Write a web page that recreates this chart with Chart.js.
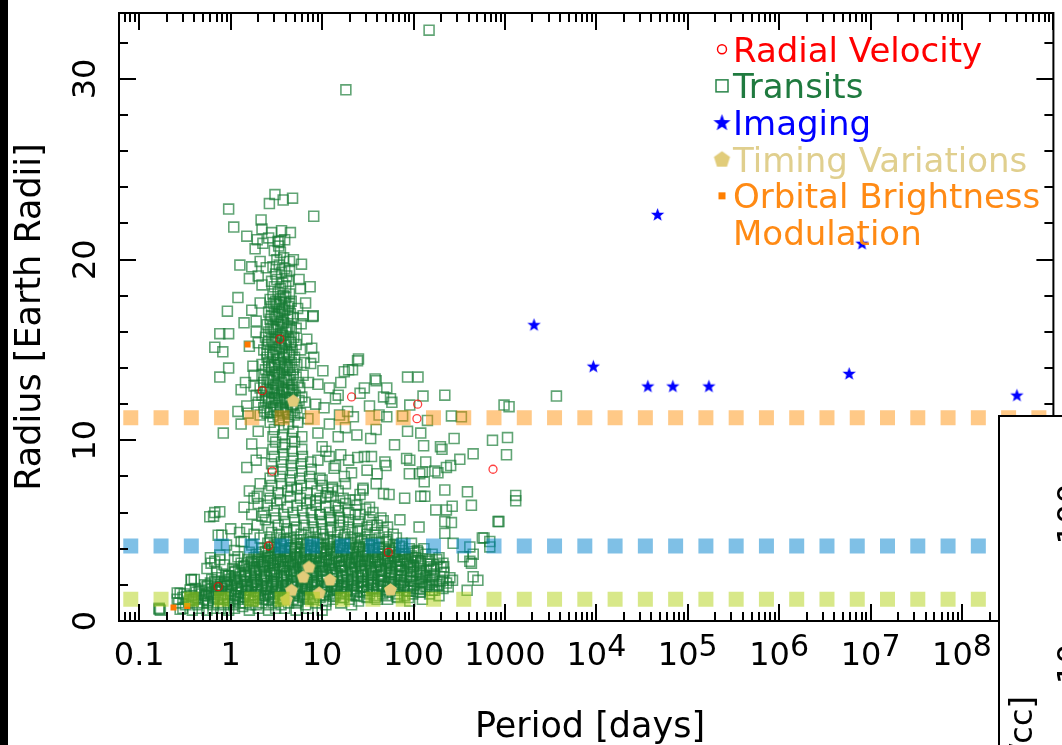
<!DOCTYPE html>
<html>
<head>
<meta charset="utf-8">
<script src="https://cdn.jsdelivr.net/npm/chart.js@4.4.1/dist/chart.umd.min.js"></script>
<style>
  html, body { margin: 0; padding: 0; background: #fff; overflow: hidden; }
  canvas { display: block; }
</style>
</head>
<body>
<canvas id="plot" width="1062" height="745"></canvas>
<script>
// axis ranges and tick labels
const xLimits = [0.06, 1e9];
const yLimits = [0, 33.65];
const xTickValues = [0.1, 1, 10, 100, 1000, 1e4, 1e5, 1e6, 1e7, 1e8];
const xTickLabels = ['0.1', '1', '10', '100', '1000', '10^4', '10^5', '10^6', '10^7', '10^8'];
const yTickValues = [0, 10, 20, 30];
const seriesNames = ['Radial Velocity', 'Transits', 'Imaging', 'Timing Variations', 'Orbital Brightness Modulation'];

// reference radii (Jupiter, Neptune, Earth) drawn as dashed bands
const bandRadii = [11.25, 4.15, 1.2];

// [period (days), radius (Earth radii)] pairs
const radialVelocity = [21,12.4, 111,12.0, 109,11.2, 741,8.4, 53,3.8, 2.85,8.3, 2.21,12.75, 2.59,4.15, 0.73,1.9, 3.45,15.6];
const imaging = [46800,22.5, 2080,16.4, 9270,14.1, 36600,13.0, 68700,13.0, 170500,13.0, 5.83e6,13.7, 8.06e6,20.9, 3.99e8,12.5];
const timingVariations = [4.83,12.2, 7.17,3.0, 6.21,2.45, 12.2,2.3, 4.63,1.72, 9.3,1.57, 4.09,1.2, 56,1.75];
const orbitalModulation = [0.237,0.75, 0.335,0.83, 1.53,15.3];

// transits: dense small-planet cloud
const transitsCore = [
  0.30,0.7, 0.38,0.6, 0.45,0.7, 0.55,0.6, 0.64,0.7, 0.78,0.7, 0.95,0.6, 1.1,0.7, 1.35,0.8, 1.6,0.6, 2.0,0.7, 2.6,0.6, 3.1,0.7, 3.9,0.7, 5.2,0.6, 7.0,0.7, 10,0.6,
  0.27,1.0, 0.32,0.9, 0.37,1.0, 0.43,0.9, 0.50,1.0, 0.56,1.0, 0.64,0.9, 0.72,1.0, 0.84,0.9, 0.95,1.0, 1.08,0.9, 1.26,1.0, 1.44,1.0, 1.65,0.9, 1.9,0.9, 2.2,1.0, 2.6,0.9, 2.95,1.0, 3.55,0.9, 4.3,1.0, 5.3,1.0, 6.6,0.9, 8.6,1.0, 11,0.9, 16,1.0, 21,0.9,
  0.26,1.2, 0.30,1.3, 0.35,1.1, 0.39,1.2, 0.44,1.3, 0.50,1.2, 0.56,1.1, 0.64,1.3, 0.72,1.2, 0.82,1.2, 0.93,1.3, 1.06,1.1, 1.2,1.2, 1.37,1.3, 1.55,1.2, 1.75,1.1, 2.0,1.3, 2.25,1.2, 2.6,1.2, 2.9,1.3, 3.3,1.1, 3.7,1.2, 4.2,1.3, 4.8,1.2, 5.4,1.1, 6.1,1.3, 7.0,1.2, 8.0,1.2, 9.5,1.3, 11,1.1, 13,1.2, 16,1.3, 20,1.2, 25,1.1, 31,1.3, 40,1.2, 52,1.2, 67,1.3, 91,1.1, 125,1.2,
  0.31,1.5, 0.37,1.4, 0.42,1.6, 0.48,1.5, 0.54,1.4, 0.61,1.5, 0.69,1.6, 0.78,1.4, 0.88,1.5, 1.0,1.5, 1.13,1.4, 1.28,1.6, 1.45,1.5, 1.63,1.4, 1.85,1.6, 2.1,1.5, 2.4,1.4, 2.7,1.5, 3.05,1.6, 3.45,1.5, 3.9,1.4, 4.4,1.6, 5.0,1.5, 5.7,1.4, 6.4,1.5, 7.3,1.6, 8.3,1.5, 9.4,1.4, 10.7,1.6, 12,1.5, 14,1.4, 16,1.5, 18,1.6, 20.5,1.5, 24,1.4, 28,1.6, 33,1.5, 39,1.4, 46,1.5, 55,1.6, 66,1.5, 80,1.4, 98,1.5, 120,1.6, 150,1.5, 190,1.4,
  0.41,1.8, 0.48,1.7, 0.55,1.9, 0.62,1.8, 0.70,1.7, 0.80,1.8, 0.9,1.9, 1.02,1.7, 1.15,1.8, 1.3,1.8, 1.48,1.7, 1.68,1.9, 1.9,1.8, 2.15,1.7, 2.45,1.8, 2.8,1.9, 3.15,1.8, 3.6,1.7, 4.05,1.8, 4.6,1.9, 5.2,1.7, 5.9,1.8, 6.7,1.8, 7.6,1.9, 8.6,1.7, 9.8,1.8, 11.1,1.9, 12.6,1.7, 14.3,1.8, 16.2,1.8, 18.4,1.9, 21,1.7, 24,1.8, 27,1.9, 31,1.7, 35,1.8, 40,1.8, 46,1.9, 53,1.7, 62,1.8, 72,1.9, 85,1.7, 100,1.8, 118,1.8, 140,1.9, 170,1.7, 210,1.8, 240,1.9,
  0.52,2.0, 0.60,2.1, 0.68,2.0, 0.78,1.9, 0.9,2.1, 1.03,2.0, 1.17,2.1, 1.33,1.9, 1.52,2.0, 1.72,2.1, 1.95,2.0, 2.2,1.9, 2.5,2.1, 2.85,2.0, 3.25,2.1, 3.7,1.9, 4.2,2.0, 4.75,2.1, 5.4,2.0, 6.1,1.9, 6.9,2.1, 7.8,2.0, 8.9,2.1, 10.1,1.9, 11.5,2.0, 13,2.1, 14.8,2.0, 16.8,1.9, 19,2.1, 21.5,2.0, 24.5,2.1, 28,1.9, 32,2.0, 36,2.1, 41,2.0, 47,1.9, 54,2.1, 63,2.0, 74,2.1, 87,1.9, 102,2.0, 122,2.1, 148,2.0, 180,1.9, 230,2.1,
  0.62,2.3, 0.72,2.4, 0.85,2.2, 0.98,2.3, 1.12,2.4, 1.28,2.3, 1.46,2.2, 1.66,2.4, 1.88,2.3, 2.15,2.3, 2.45,2.4, 2.8,2.2, 3.2,2.3, 3.6,2.4, 4.1,2.3, 4.7,2.2, 5.3,2.4, 6.0,2.3, 6.8,2.3, 7.7,2.4, 8.8,2.2, 10,2.3, 11.4,2.4, 13,2.3, 14.7,2.2, 16.7,2.4, 19,2.3, 21.5,2.3, 24.5,2.4, 28,2.2, 31.5,2.3, 36,2.4, 41,2.3, 47,2.2, 54,2.4, 62,2.3, 72,2.3, 84,2.4, 98,2.2, 115,2.3, 135,2.4, 160,2.3, 195,2.2, 250,2.4,
  0.8,2.6, 0.95,2.5, 1.1,2.7, 1.27,2.6, 1.45,2.5, 1.65,2.6, 1.9,2.7, 2.15,2.6, 2.45,2.5, 2.8,2.6, 3.2,2.7, 3.6,2.5, 4.1,2.6, 4.6,2.6, 5.2,2.7, 5.9,2.5, 6.7,2.6, 7.6,2.7, 8.7,2.6, 9.9,2.5, 11.2,2.6, 12.8,2.7, 14.5,2.6, 16.5,2.5, 18.8,2.6, 21.4,2.7, 24.5,2.5, 28,2.6, 32,2.6, 36.5,2.7, 42,2.5, 48,2.6, 55,2.7, 63,2.6, 73,2.5, 85,2.6, 100,2.7, 118,2.6, 140,2.5, 170,2.6, 215,2.7,
  1.05,2.9, 1.22,2.8, 1.4,3.0, 1.6,2.9, 1.82,2.8, 2.07,2.9, 2.35,3.0, 2.68,2.8, 3.05,2.9, 3.45,2.9, 3.9,3.0, 4.45,2.8, 5.05,2.9, 5.75,3.0, 6.5,2.9, 7.4,2.8, 8.4,2.9, 9.5,3.0, 10.8,2.8, 12.3,2.9, 14,2.9, 15.9,3.0, 18,2.8, 20.5,2.9, 23.3,3.0, 26.5,2.9, 30,2.8, 34,2.9, 39,3.0, 44,2.8, 50,2.9, 57,2.9, 65,3.0, 75,2.8, 87,2.9, 100,3.0, 117,2.9, 138,2.8, 165,2.9, 200,3.0,
  1.3,3.2, 1.5,3.1, 1.72,3.2, 1.96,3.3, 2.25,3.1, 2.55,3.2, 2.9,3.2, 3.3,3.1, 3.75,3.3, 4.25,3.2, 4.85,3.1, 5.5,3.2, 6.25,3.3, 7.1,3.1, 8.1,3.2, 9.2,3.2, 10.5,3.3, 11.9,3.1, 13.5,3.2, 15.4,3.3, 17.5,3.1, 20,3.2, 22.7,3.2, 25.8,3.3, 29.3,3.1, 33.3,3.2, 38,3.3, 43,3.1, 49,3.2, 56,3.2, 64,3.1, 74,3.3, 86,3.2, 100,3.1, 120,3.2, 145,3.3, 180,3.1, 210,3.2,
  1.55,3.4, 1.8,3.5, 2.05,3.4, 2.35,3.3, 2.7,3.5, 3.1,3.4, 3.5,3.4, 4.0,3.5, 4.55,3.3, 5.15,3.4, 5.85,3.5, 6.65,3.4, 7.55,3.4, 8.6,3.3, 9.8,3.5, 11.1,3.4, 12.6,3.4, 14.4,3.5, 16.4,3.3, 18.6,3.4, 21.2,3.5, 24.1,3.4, 27.4,3.3, 31.2,3.4, 35.5,3.5, 40.4,3.4, 46,3.4, 53,3.3, 61,3.5, 71,3.4, 83,3.4, 98,3.5, 120,3.3, 150,3.4, 190,3.5,
  1.9,3.7, 2.2,3.8, 2.55,3.6, 2.95,3.7, 3.4,3.8, 3.9,3.7, 4.45,3.6, 5.1,3.7, 5.8,3.8, 6.6,3.7, 7.5,3.7, 8.5,3.6, 9.7,3.8, 11.1,3.7, 12.6,3.7, 14.4,3.8, 16.4,3.6, 18.7,3.7, 21.3,3.8, 24.3,3.7, 27.6,3.6, 31.5,3.7, 35.8,3.8, 40.8,3.7, 46.5,3.7, 53,3.6, 61,3.8, 70,3.7, 81,3.7, 95,3.6, 112,3.8, 135,3.7, 160,3.7,
  2.2,4.0, 2.6,3.9, 3.0,4.1, 3.45,4.0, 3.95,3.9, 4.5,4.0, 5.15,4.1, 5.9,4.0, 6.7,3.9, 7.6,4.0, 8.7,4.1, 9.9,4.0, 11.3,3.9, 12.9,4.0, 14.7,4.1, 16.8,4.0, 19.2,3.9, 21.9,4.0, 25,4.1, 28.5,4.0, 32.5,3.9, 37,4.0, 42,4.1, 48,4.0, 55,3.9, 64,4.0, 75,4.1, 90,4.0, 110,3.9, 130,4.0,
  2.55,4.3, 3.0,4.2, 3.5,4.3, 4.0,4.4, 4.6,4.2, 5.3,4.3, 6.0,4.3, 6.9,4.2, 7.9,4.4, 9.0,4.3, 10.3,4.2, 11.8,4.3, 13.5,4.4, 15.5,4.2, 17.8,4.3, 20.4,4.3, 23.4,4.2, 27,4.4, 31,4.3, 36,4.2, 42,4.3, 50,4.4, 60,4.2, 75,4.3, 95,4.3
];

// transits: more of the same cloud, between the rows above
const transitsCoreFill = [
  0.33,1.35, 0.41,1.3, 0.52,1.4, 0.66,1.35, 0.85,1.3, 1.1,1.4, 1.4,1.35, 1.8,1.3, 2.3,1.4, 2.95,1.35, 3.8,1.3, 4.9,1.4, 6.3,1.35, 8.1,1.3, 10.4,1.4, 13.4,1.35, 17.2,1.3, 22,1.4, 29,1.35, 38,1.3, 50,1.4, 66,1.35, 88,1.3,
  0.45,1.65, 0.58,1.6, 0.74,1.7, 0.95,1.65, 1.22,1.6, 1.55,1.7, 2.0,1.65, 2.55,1.6, 3.3,1.7, 4.2,1.65, 5.4,1.6, 6.9,1.7, 8.9,1.65, 11.4,1.6, 14.6,1.7, 18.7,1.65, 24,1.6, 31,1.7, 40,1.65, 52,1.6, 68,1.7, 90,1.65, 118,1.6, 160,1.7,
  0.56,1.95, 0.72,1.9, 0.92,2.0, 1.18,1.95, 1.5,1.9, 1.92,2.0, 2.45,1.95, 3.15,1.9, 4.0,2.0, 5.1,1.95, 6.5,1.9, 8.3,2.0, 10.6,1.95, 13.6,1.9, 17.4,2.0, 22.3,1.95, 28.5,1.9, 36.5,2.0, 47,1.95, 60,1.9, 78,2.0, 100,1.95, 135,1.9, 190,2.0,
  0.67,2.2, 0.86,2.15, 1.1,2.25, 1.4,2.2, 1.8,2.15, 2.3,2.25, 2.95,2.2, 3.75,2.15, 4.8,2.25, 6.15,2.2, 7.85,2.15, 10,2.25, 12.8,2.2, 16.4,2.15, 21,2.25, 26.8,2.2, 34.3,2.15, 44,2.25, 56,2.2, 72,2.15, 92,2.25, 120,2.2, 160,2.15, 210,2.25,
  0.88,2.5, 1.13,2.45, 1.45,2.55, 1.85,2.5, 2.35,2.45, 3.0,2.55, 3.85,2.5, 4.9,2.45, 6.3,2.55, 8.0,2.5, 10.3,2.45, 13.1,2.55, 16.8,2.5, 21.5,2.45, 27.5,2.55, 35,2.5, 45,2.45, 57,2.55, 73,2.5, 94,2.45, 125,2.55, 165,2.5,
  1.12,2.75, 1.43,2.7, 1.83,2.8, 2.35,2.75, 3.0,2.7, 3.8,2.8, 4.9,2.75, 6.25,2.7, 8.0,2.8, 10.2,2.75, 13,2.7, 16.7,2.8, 21.3,2.75, 27.3,2.7, 35,2.8, 44.5,2.75, 57,2.7, 73,2.8, 93,2.75, 120,2.7, 155,2.8,
  1.4,3.05, 1.8,3.0, 2.3,3.1, 2.9,3.05, 3.7,3.0, 4.75,3.1, 6.1,3.05, 7.8,3.0, 10,3.1, 12.7,3.05, 16.3,3.0, 20.8,3.1, 26.6,3.05, 34,3.0, 43.5,3.1, 55.5,3.05, 71,3.0, 91,3.1, 118,3.05, 155,3.0,
  1.7,3.3, 2.15,3.25, 2.75,3.35, 3.5,3.3, 4.5,3.25, 5.75,3.35, 7.35,3.3, 9.4,3.25, 12,3.35, 15.3,3.3, 19.6,3.25, 25,3.35, 32,3.3, 41,3.25, 52,3.35, 67,3.3, 86,3.25, 112,3.35,
  2.0,3.55, 2.55,3.5, 3.25,3.6, 4.15,3.55, 5.3,3.5, 6.8,3.6, 8.7,3.55, 11.1,3.5, 14.2,3.6, 18.2,3.55, 23.2,3.5, 29.7,3.6, 38,3.55, 48.5,3.5, 62,3.6, 80,3.55, 105,3.5,
  2.4,3.85, 3.05,3.8, 3.9,3.9, 5.0,3.85, 6.4,3.8, 8.2,3.9, 10.5,3.85, 13.4,3.8, 17.1,3.9, 21.9,3.85, 28,3.8, 35.8,3.9, 45.8,3.85, 58.6,3.8, 75,3.9, 100,3.85,
  2.8,4.1, 3.6,4.15, 4.6,4.05, 5.9,4.1, 7.5,4.15, 9.6,4.05, 12.3,4.1, 15.7,4.15, 20,4.05, 25.6,4.1, 32.8,4.15, 42,4.05, 54,4.1, 70,4.15
];

// transits: column of hot Jupiters and its stem
const transitsColumn = [
  2.7,4.5, 3.2,4.6, 3.8,4.5, 4.5,4.6, 5.3,4.5, 6.3,4.5, 7.4,4.6, 8.8,4.5, 10.4,4.6, 12.3,4.5, 14.6,4.5, 17.3,4.6, 20.5,4.5, 24.5,4.6, 29,4.5, 35,4.5, 42,4.6, 52,4.5, 65,4.6,
  2.8,4.9, 3.4,4.8, 4.1,4.9, 4.9,5.0, 5.9,4.8, 7.1,4.9, 8.5,4.9, 10.2,4.8, 12.3,5.0, 14.8,4.9, 17.8,4.8, 21.4,4.9, 26,5.0, 31,4.8, 38,4.9, 47,4.9, 60,4.8,
  2.6,5.2, 3.3,5.3, 4.1,5.1, 5.2,5.2, 6.4,5.3, 8,5.2, 10,5.1, 12.5,5.2, 15.5,5.3, 19.5,5.2, 24.5,5.1, 31,5.2, 40,5.3, 52,5.2,
  2.4,5.6, 3.1,5.7, 3.9,5.5, 5,5.6, 6.3,5.7, 7.8,5.6, 9.8,5.5, 12.3,5.6, 15.5,5.7, 19.5,5.6, 25,5.5, 33,5.6, 44,5.7,
  2.3,6.0, 3.0,6.1, 3.8,5.9, 4.8,6.0, 6.1,6.1, 7.6,6.0, 9.5,5.9, 12,6.0, 15,6.1, 19.5,6.0, 26,5.9, 36,6.0,
  2.5,6.4, 3.2,6.5, 4.2,6.3, 5.3,6.4, 6.8,6.5, 8.6,6.4, 11,6.3, 14,6.4, 18,6.5, 24,6.4, 33,6.3,
  2.7,6.8, 3.5,6.7, 4.5,6.9, 5.8,6.8, 7.4,6.7, 9.5,6.8, 12.5,6.9, 17,6.8, 23,6.7,
  2.6,7.2, 3.3,7.1, 4.2,7.2, 5.3,7.3, 6.8,7.1, 8.8,7.2, 11.5,7.1, 15,7.2,
  2.8,7.5, 3.6,7.6, 4.6,7.4, 5.9,7.5, 7.6,7.6, 10,7.5, 13,7.4,
  2.7,7.9, 3.5,8.0, 4.5,7.8, 5.7,7.9, 7.3,8.0, 9.5,7.9,
  2.9,8.3, 3.7,8.4, 4.7,8.2, 6.0,8.3, 7.6,8.4,
  2.8,8.7, 3.6,8.8, 4.6,8.6, 5.9,8.7, 7.5,8.8,
  3.0,9.1, 3.8,9.2, 4.8,9.0, 6.1,9.1, 2.9,9.5, 3.7,9.6, 4.7,9.4, 6.0,9.5,
  3.1,9.9, 3.9,9.8, 5.0,9.9, 2.9,10.2, 3.7,10.3, 4.7,10.1, 6.0,10.2,
  3.0,10.6, 3.8,10.7, 4.8,10.5, 2.7,11.0, 3.4,11.1, 4.3,10.9, 5.4,11.0,
  2.1,11.4, 2.5,11.5, 2.9,11.3, 3.3,11.4, 3.8,11.5, 4.3,11.3, 5.0,11.4, 5.8,11.5,
  2.3,11.8, 2.7,11.7, 3.1,11.9, 3.5,11.8, 4.0,11.7, 4.6,11.9, 5.3,11.8,
  2.0,12.1, 2.4,12.2, 2.8,12.1, 3.2,12.3, 3.7,12.1, 4.2,12.2, 4.8,12.0, 5.6,12.2, 6.5,12.1,
  2.2,12.5, 2.6,12.4, 3.0,12.6, 3.4,12.5, 3.9,12.4, 4.4,12.6, 5.1,12.5,
  2.1,12.9, 2.5,12.8, 2.9,12.9, 3.3,13.0, 3.8,12.8, 4.3,12.9, 4.9,12.8, 5.7,12.9,
  2.3,13.2, 2.7,13.3, 3.1,13.1, 3.6,13.2, 4.1,13.3, 4.7,13.1, 5.4,13.2,
  2.2,13.6, 2.6,13.5, 3.0,13.6, 3.4,13.7, 3.9,13.5, 4.5,13.6, 5.2,13.5,
  2.4,13.9, 2.8,14.0, 3.2,13.8, 3.7,13.9, 4.2,14.0, 4.8,13.9,
  2.2,14.2, 2.6,14.3, 3.0,14.2, 3.5,14.3, 4.0,14.2, 4.6,14.3, 5.3,14.2,
  2.5,14.6, 2.9,14.7, 3.3,14.5, 3.8,14.6, 4.4,14.7, 5.0,14.6,
  2.3,15.0, 2.7,14.9, 3.1,15.0, 3.6,15.1, 4.1,14.9, 4.7,15.0,
  2.5,15.3, 2.9,15.4, 3.4,15.2, 3.9,15.3, 4.5,15.4, 5.2,15.3,
  2.4,15.7, 2.8,15.6, 3.2,15.7, 3.7,15.8, 4.3,15.6, 4.9,15.7,
  2.6,16.0, 3.0,16.1, 3.5,15.9, 4.0,16.0, 4.6,16.1,
  2.5,16.4, 2.9,16.3, 3.3,16.4, 3.8,16.5, 4.4,16.3,
  2.7,16.7, 3.1,16.8, 3.6,16.6, 4.2,16.7, 4.8,16.8,
  2.6,17.1, 3.0,17.0, 3.4,17.1, 3.9,17.2, 4.5,17.0,
  2.8,17.4, 3.2,17.5, 3.7,17.3, 4.3,17.4,
  2.7,17.8, 3.1,17.7, 3.5,17.8, 4.0,17.9, 4.6,17.7,
  2.9,18.1, 3.3,18.2, 3.8,18.0, 4.4,18.1, 3.0,18.5, 3.5,18.4, 4.0,18.5,
  2.8,18.8, 3.2,18.9, 3.7,18.7, 4.3,18.8, 3.1,19.2, 3.6,19.3, 4.1,19.1,
  2.9,19.6, 3.4,19.7, 3.9,19.5, 3.2,20.0, 3.8,20.1, 4.4,19.9,
  3.0,20.5, 3.5,20.4, 3.3,21.0, 3.9,21.1, 2.8,21.5, 3.6,21.6,
  1.9,16.6, 2.1,17.6, 2.2,18.6, 5.4,17.3, 5.2,16.2, 5.6,18.9, 2.0,15.4, 5.8,15.0, 1.8,13.0, 6.2,13.6,
  2.35,11.6, 2.75,11.55, 3.2,11.65, 3.65,11.6, 4.2,11.55, 4.8,11.65,
  2.6,12.3, 3.0,12.35, 3.45,12.25, 4.0,12.3, 4.55,12.35,
  2.4,12.7, 2.8,12.65, 3.2,12.75, 3.65,12.7, 4.15,12.65, 4.7,12.75,
  2.5,13.4, 2.9,13.35, 3.3,13.45, 3.8,13.4, 4.35,13.35,
  2.6,14.1, 3.0,14.05, 3.4,14.15, 3.9,14.1, 4.4,14.05,
  2.5,14.8, 2.9,14.75, 3.35,14.85, 3.85,14.8, 4.35,14.75,
  2.6,15.5, 3.05,15.45, 3.5,15.55, 4.0,15.5, 4.6,15.45,
  2.75,16.2, 3.15,16.15, 3.65,16.25, 4.2,16.2,
  2.8,16.9, 3.2,16.85, 3.7,16.95, 4.2,16.9,
  2.95,17.6, 3.4,17.55, 3.9,17.65, 4.4,17.6
];

// transits: individually readable points
const transitsScatter = [
  148,32.7, 18.2,29.4, 3.05,23.6, 4.75,23.4, 3.75,23.3, 2.65,23.1, 0.95,22.8, 8.1,22.4, 2.15,22.2, 1.08,21.8,
  2.2,21.7, 4.5,21.5, 1.5,21.3, 1.95,21.1, 2.6,21.2, 3.45,21.0, 1.85,20.6, 2.25,20.9, 3.35,20.75, 2.1,19.9,
  1.26,19.7, 1.7,19.6, 4.85,20.0, 5.95,19.75, 2.45,19.55, 1.6,18.95, 2.0,19.1, 4.4,19.4, 7.4,18.5, 1.2,17.9,
  0.92,17.15, 7.9,16.85, 5.9,16.45, 0.76,15.9, 0.95,15.9, 0.67,15.15, 0.82,14.9, 0.95,14.0, 0.76,13.5, 25,14.5,
  21.5,13.9, 17.5,13.8, 29,12.9, 39,13.3, 8.1,14.6, 10.2,13.85, 7.5,14.25,
  1.4,16.5, 1.6,15.2, 1.75,14.1, 1.45,13.2, 1.9,12.5, 1.5,11.9, 1.3,12.8, 1.7,17.2, 1.9,16.0, 1.8,13.6,
  6.2,16.9, 6.8,15.6, 6.4,14.3, 7.1,13.2, 6.0,12.4, 8.5,12.0, 9,13.1, 7.7,15.1, 6.6,17.6, 5.8,18.4,
  24.4,14.4, 19.5,13.9, 38,13.4, 51,12.9, 86,13.5, 112,13.5, 127,12.45, 220,12.5, 56,12.3, 58,12.1,
  15,12.5, 91,11.95, 978,11.95, 1110,11.86, 3660,12.45, 51,11.3, 76,11.35, 142,11.1, 260,11.35, 334,11.3,
  22,11.3, 15.5,11.4, 86,10.5, 120,10.4, 39,10.6, 62,9.75, 24,10.3, 15,10.2, 34,10.1, 278,10.1,
  731,10.0, 1067,10.15, 1040,9.2, 449,9.25, 321,8.95, 129,9.7, 197,9.65, 205,9.5, 84,9.0, 91,8.9,
  136,8.8, 48.6,8.8, 50,8.6, 34.7,9.1, 24.5,9.05, 19.5,8.9, 125,8.25, 171,8.3, 229,8.5, 255,8.6,
  131,7.7, 185,8.2, 39,7.6, 28,7.35, 54,7.0, 80,6.8, 133,6.9, 220,7.25, 389,7.15, 430,6.4,
  1312,6.95, 1312,6.65, 840,5.5, 566,4.6, 229,6.15, 265,6.35, 175,6.15, 220,5.5, 260,5.45, 115,5.2,
  71,5.6, 46.6,5.55, 35,5.3, 220,4.85, 271,4.3, 413,4.1, 683,4.1, 450,3.7,
  349,3.55, 413,3.3, 590,4.6, 860,5.5, 449,2.45, 506,2.25, 386,1.7, 267,2.25, 214,3.0, 180,3.4, 683,4.4, 430,3.2,
  1.55,11.5, 1.2,11.6, 0.83,10.4, 1.5,8.5, 1.8,6.8, 1.95,6.9, 0.67,6.0, 0.76,6.05, 1.95,5.3, 0.8,4.75,
  0.67,3.3, 0.76,3.4, 1.2,3.55, 0.4,2.3, 0.26,1.55, 0.165,0.65, 0.28,0.65, 8.0,16.9, 47,12.4, 29,9.1,
  31,8.35, 17.5,8.0, 12,9.1, 13.5,8.45, 10,9.65, 28,7.25, 40,8.15, 47,7.05, 90,8.15, 117,8.15,
  120,6.9, 0.65,5.8, 2.2,5.8, 0.73,4.75, 0.6,3.5, 0.37,2.3, 0.17,0.6, 0.165,0.7, 0.28,1.53, 0.37,2.27,
  0.36,1.72, 0.61,3.2, 0.76,3.65, 0.59,5.77,
  9,8.9, 11,9.4, 14,8.6, 16,9.2, 10,7.8, 13,7.3, 18,7.6, 21,8.2, 8.5,6.6, 11,6.9,
  15,6.3, 20,6.7, 26,7.0, 9.5,5.9, 12.5,5.7, 17,5.5, 23,5.9, 30,6.2, 9,10.4, 12,10.9,
  18,10.7, 10.5,11.8, 14,12.3, 19,11.6, 26,12.6, 33,11.9, 42,11.4, 12,12.9, 16,13.2, 7,11.2,
  1.3,10.9, 1.7,9.8, 2.0,10.5, 1.9,8.9, 2.2,9.3, 2.1,7.6, 1.6,7.2,
  1.4,6.3, 1.7,5.9, 2.0,6.5, 1.5,5.1, 1.8,4.8, 1.3,4.4, 2.1,4.6,
  0.9,4.2, 1.1,3.9, 1.4,4.4, 1.6,3.8, 1.0,5.1, 1.25,4.9, 1.7,4.2,
  0.7,2.7, 0.85,3.1, 0.95,2.5, 1.1,3.4, 0.55,2.9
];

function toPoints(flat) {
  const pts = [];
  for (let i = 0; i < flat.length; i += 2) pts.push({ x: flat[i], y: flat[i + 1] });
  return pts;
}

// star and pentagon markers as small canvases
function makeMarker(size, draw) {
  const c = document.createElement('canvas');
  c.width = c.height = size;
  draw(c.getContext('2d'), size / 2);
  return c;
}
function starPath(g, cx, cy, ro, ri) {
  g.beginPath();
  for (let i = 0; i < 10; i++) {
    const r = i % 2 ? ri : ro;
    const a = -Math.PI / 2 + i * Math.PI / 5;
    g.lineTo(cx + r * Math.cos(a), cy + r * Math.sin(a));
  }
  g.closePath();
}
function pentagonPath(g, cx, cy, r) {
  g.beginPath();
  for (let i = 0; i < 5; i++) {
    const a = -Math.PI / 2 + i * 2 * Math.PI / 5;
    g.lineTo(cx + r * Math.cos(a), cy + r * Math.sin(a));
  }
  g.closePath();
}
const starImg = makeMarker(15, (g, c) => { starPath(g, c, c + 0.5, 7, 2.9); g.fillStyle = '#0000ff'; g.fill(); });
const pentImg = makeMarker(15, (g, c) => { pentagonPath(g, c, c + 0.5, 6.8); g.fillStyle = 'rgb(225,204,122)'; g.fill(); });
const starLegend = makeMarker(19, (g, c) => { starPath(g, c, c + 0.5, 9, 3.7); g.fillStyle = '#0000ff'; g.fill(); });
const pentLegend = makeMarker(19, (g, c) => { pentagonPath(g, c, c + 0.5, 8.5); g.fillStyle = 'rgb(225,204,122)'; g.fill(); });

const FONT = '"DejaVu Sans"';

function rotatedText(ctx, text, x, y, align) {
  ctx.save();
  ctx.translate(x, y);
  ctx.rotate(-Math.PI / 2);
  ctx.textAlign = align;
  ctx.fillText(text, 0, 0);
  ctx.restore();
}

const framePlugin = {
  id: 'frame',
  afterDraw(chart) {
    const { ctx, chartArea: a, scales: { x, y } } = chart;
    ctx.save();
    ctx.strokeStyle = '#000';
    ctx.lineWidth = 2;
    ctx.strokeRect(a.left, a.top, a.right - a.left, a.bottom - a.top);

    // inward ticks on all four sides
    ctx.beginPath();
    for (let e = -2; e <= 9; e++) {
      for (let m = 1; m <= 9; m++) {
        const v = m * Math.pow(10, e);
        if (v < xLimits[0] || v > xLimits[1] * 1.0001) continue;
        const px = Math.round(x.getPixelForValue(v));
        const len = m === 1 ? 17 : 9;
        ctx.moveTo(px, a.bottom); ctx.lineTo(px, a.bottom - len);
        ctx.moveTo(px, a.top); ctx.lineTo(px, a.top + len);
      }
    }
    for (let v = 0; v <= yLimits[1]; v += 2) {
      const py = Math.round(y.getPixelForValue(v));
      const len = v % 10 === 0 ? 17 : 9;
      ctx.moveTo(a.left, py); ctx.lineTo(a.left + len, py);
      ctx.moveTo(a.right, py); ctx.lineTo(a.right - len, py);
    }
    ctx.stroke();

    // tick labels
    ctx.fillStyle = '#000';
    ctx.textBaseline = 'alphabetic';
    xTickValues.forEach((v, i) => {
      const px = x.getPixelForValue(v);
      const [base, exp] = xTickLabels[i].split('^');
      ctx.font = '32px ' + FONT;
      const wb = ctx.measureText(base).width;
      let we = 0;
      if (exp) { ctx.font = '30px ' + FONT; we = ctx.measureText(exp).width; }
      const left = px - (wb + we) / 2;
      ctx.textAlign = 'left';
      ctx.font = '32px ' + FONT;
      ctx.fillText(base, left, 665);
      if (exp) { ctx.font = '30px ' + FONT; ctx.fillText(exp, left + wb, 656); }
    });
    ctx.font = '32px ' + FONT;
    yTickValues.forEach(v => rotatedText(ctx, String(v), 95, y.getPixelForValue(v), 'center'));

    // axis titles
    ctx.font = '35px ' + FONT;
    ctx.textAlign = 'center';
    ctx.fillText('Period [days]', 590, 737);
    rotatedText(ctx, 'Radius [Earth Radii]', 40, (a.top + a.bottom) / 2, 'center');

    // legend
    const legend = [
      { text: seriesNames[0], color: '#ff0000', marker: 'circle' },
      { text: seriesNames[1], color: '#1f7a3f', marker: 'square' },
      { text: seriesNames[2], color: '#0000ff', marker: 'star' },
      { text: seriesNames[3], color: '#e0cf8e', marker: 'pentagon' },
      { text: 'Orbital Brightness', color: '#ff8a14', marker: 'dot' },
      { text: 'Modulation', color: '#ff8a14', marker: null }
    ];
    ctx.font = '34px ' + FONT;
    ctx.textAlign = 'left';
    legend.forEach((item, i) => {
      const base = 61.7 + i * 36.66;
      const my = base - 12.5;
      const mx = 722;
      if (item.marker === 'circle') {
        ctx.beginPath(); ctx.arc(mx, my, 4.5, 0, Math.PI * 2);
        ctx.strokeStyle = '#ff0000'; ctx.lineWidth = 1.4; ctx.stroke();
      } else if (item.marker === 'square') {
        ctx.strokeStyle = '#2a8549'; ctx.lineWidth = 1.5; ctx.strokeRect(mx - 6, my - 6, 12, 12);
      } else if (item.marker === 'star') {
        ctx.drawImage(starLegend, mx - 9.5, my - 9.5);
      } else if (item.marker === 'pentagon') {
        ctx.drawImage(pentLegend, mx - 9.5, my - 9.5);
      } else if (item.marker === 'dot') {
        ctx.fillStyle = '#ff7f00'; ctx.fillRect(mx - 3.5, my - 3.5, 7, 7);
      }
      ctx.fillStyle = item.color;
      ctx.fillText(item.text, 733, base);
    });

    // left border strip
    ctx.fillStyle = '#000';
    ctx.fillRect(0, 0, 8, 745);

    // neighbouring panel peeking in at lower right
    ctx.fillStyle = '#fff';
    ctx.fillRect(999, 416, 63, 329);
    ctx.strokeStyle = '#000';
    ctx.lineWidth = 2;
    ctx.beginPath();
    ctx.moveTo(999, 745); ctx.lineTo(999, 416); ctx.lineTo(1062, 416);
    ctx.stroke();
    ctx.save();
    ctx.beginPath(); ctx.rect(1000, 417, 62, 328); ctx.clip();
    ctx.fillStyle = '#000';
    ctx.font = '32px ' + FONT;
    rotatedText(ctx, 'Density [g/cc]', 1032, 696, 'right');
    rotatedText(ctx, '100', 1080, 514, 'center');
    rotatedText(ctx, '10', 1080, 664, 'center');
    ctx.restore();

    ctx.restore();
  }
};

const bandColors = ['rgba(255,140,0,0.47)', 'rgba(0,130,205,0.5)', 'rgba(178,210,20,0.5)'];
const bandSets = bandRadii.map((r, i) => ({
  label: 'band' + i,
  data: [{ x: xLimits[0], y: r }, { x: xLimits[1], y: r }],
  showLine: true,
  borderColor: bandColors[i],
  borderWidth: 15,
  borderDash: [15, 15.27],
  borderDashOffset: 26,
  pointRadius: 0
}));

new Chart(document.getElementById('plot'), {
  type: 'scatter',
  data: {
    datasets: [
      ...bandSets,
      {
        label: seriesNames[4],
        data: toPoints(orbitalModulation),
        pointStyle: 'rect', pointRadius: 4.3, borderWidth: 0,
        backgroundColor: 'rgb(255,120,0)'
      },
      {
        label: seriesNames[2],
        data: toPoints(imaging),
        pointStyle: starImg, pointRadius: 7
      },
      {
        label: seriesNames[3],
        data: toPoints(timingVariations),
        pointStyle: pentImg, pointRadius: 7
      },
      {
        label: seriesNames[0],
        data: toPoints(radialVelocity),
        pointStyle: 'circle', pointRadius: 4, borderWidth: 1.3,
        borderColor: 'rgba(255,0,0,0.75)', backgroundColor: 'transparent'
      },
      {
        label: seriesNames[1],
        data: toPoints([...transitsCore, ...transitsCoreFill, ...transitsColumn, ...transitsScatter]),
        pointStyle: 'rect', pointRadius: 7, borderWidth: 1.6,
        borderColor: 'rgba(22,122,52,0.68)', backgroundColor: 'transparent'
      }
    ]
  },
  options: {
    responsive: false,
    animation: false,
    devicePixelRatio: 1,
    layout: { padding: { left: 119, right: 8, top: 13, bottom: 124 } },
    plugins: { legend: { display: false }, tooltip: { enabled: false } },
    scales: {
      x: { type: 'logarithmic', min: xLimits[0], max: xLimits[1], display: false },
      y: { type: 'linear', min: yLimits[0], max: yLimits[1], display: false }
    }
  },
  plugins: [framePlugin]
});
</script>
</body>
</html>
